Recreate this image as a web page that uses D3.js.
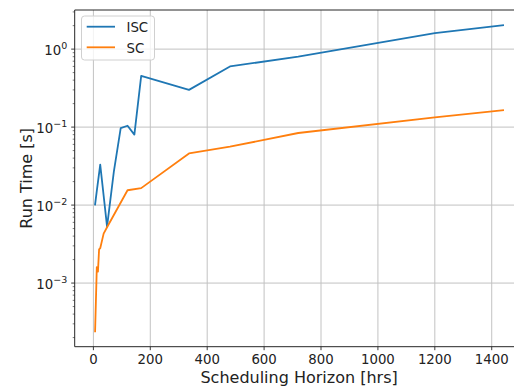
<!DOCTYPE html>
<html>
<head>
<meta charset="utf-8">
<script src="https://cdn.jsdelivr.net/npm/d3@7"></script>
<style>
  html, body { margin: 0; padding: 0; background: #fff; }
  svg { display: block; font-family: "DejaVu Sans", sans-serif; }
</style>
</head>
<body>
<svg id="chart" width="514" height="389"></svg>
<script>
// Scheduling horizon (hours) and solver run time (seconds) per method
const iscHorizon = [6, 12, 24, 48, 72, 96, 120, 144, 168, 336, 480, 720, 1200, 1440];
const iscTime    = [0.0102, 0.0152, 0.033, 0.0053, 0.027, 0.097, 0.104, 0.080, 0.455, 0.30, 0.60, 0.80, 1.60, 2.02];

const scHorizon = [6, 12, 16, 20, 24, 36, 48, 120, 168, 336, 480, 720, 1200, 1440];
const scTime    = [0.00024, 0.0016, 0.0014, 0.0027, 0.0028, 0.0043, 0.0052, 0.0155, 0.0165, 0.046, 0.056, 0.084, 0.133, 0.165];

const seriesNames  = ["ISC", "SC"];
const seriesColors = ["#1f77b4", "#ff7f0e"];

const xTicks = [0, 200, 400, 600, 800, 1000, 1200, 1400];
const yTickExponents = [-3, -2, -1, 0];

const xLabel = "Scheduling Horizon [hrs]";
const yLabel = "Run Time [s]";

const series = [
  { name: seriesNames[0], color: seriesColors[0], pts: iscHorizon.map((h, i) => [h, iscTime[i]]) },
  { name: seriesNames[1], color: seriesColors[1], pts: scHorizon.map((h, i) => [h, scTime[i]]) }
];

const svg = d3.select("#chart");
const plot = { left: 74.7, right: 523.5, top: 10, bottom: 346.7 };

// Domains padded by 5% (linear on x, in log space on y)
const allX = series.flatMap(s => s.pts.map(p => p[0]));
const allY = series.flatMap(s => s.pts.map(p => p[1]));
const [x0, x1] = d3.extent(allX);
const xPad = (x1 - x0) * 0.05;
const [ly0, ly1] = d3.extent(allY).map(Math.log10);
const yPad = (ly1 - ly0) * 0.05;

const x = d3.scaleLinear().domain([x0 - xPad, x1 + xPad]).range([plot.left, plot.right]);
const y = d3.scaleLog().domain([Math.pow(10, ly0 - yPad), Math.pow(10, ly1 + yPad)]).range([plot.bottom, plot.top]);

svg.append("defs").append("clipPath").attr("id", "clip")
  .append("rect")
  .attr("x", plot.left).attr("y", plot.top)
  .attr("width", plot.right - plot.left).attr("height", plot.bottom - plot.top);

// Grid
const grid = svg.append("g").attr("stroke", "#c2c2c2").attr("stroke-width", 1);
xTicks.forEach(t => {
  grid.append("line")
    .attr("x1", x(t)).attr("x2", x(t))
    .attr("y1", plot.top).attr("y2", plot.bottom);
});
yTickExponents.forEach(e => {
  grid.append("line")
    .attr("x1", plot.left).attr("x2", plot.right)
    .attr("y1", y(Math.pow(10, e))).attr("y2", y(Math.pow(10, e)));
});

// Lines
const line = d3.line().x(d => x(d[0])).y(d => y(d[1]));
const lines = svg.append("g").attr("clip-path", "url(#clip)");
series.forEach(s => {
  lines.append("path")
    .datum(s.pts)
    .attr("d", line)
    .attr("fill", "none")
    .attr("stroke", s.color)
    .attr("stroke-width", 1.8)
    .attr("stroke-linejoin", "round")
    .attr("stroke-linecap", "square");
});

// Spines (left, top, bottom)
const spines = svg.append("g").attr("stroke", "#262626").attr("stroke-width", 1).attr("fill", "none");
spines.append("path")
  .attr("d", `M${plot.right},${plot.top}H${plot.left}V${plot.bottom}H${plot.right}`);

// X axis ticks and labels
const xAxis = svg.append("g");
xTicks.forEach(t => {
  xAxis.append("line")
    .attr("x1", x(t)).attr("x2", x(t))
    .attr("y1", plot.bottom).attr("y2", plot.bottom + 3.5)
    .attr("stroke", "#262626").attr("stroke-width", 0.9);
  xAxis.append("text")
    .attr("x", x(t)).attr("y", 364)
    .attr("text-anchor", "middle")
    .attr("font-size", "13.3px")
    .attr("fill", "#222")
    .text(t);
});

// Y axis major ticks with power-of-ten labels
const yAxis = svg.append("g");
yTickExponents.forEach(e => {
  const yy = y(Math.pow(10, e));
  yAxis.append("line")
    .attr("x1", plot.left - 3.5).attr("x2", plot.left)
    .attr("y1", yy).attr("y2", yy)
    .attr("stroke", "#262626").attr("stroke-width", 0.9);
  const txt = yAxis.append("text")
    .attr("x", plot.left - 7.5).attr("y", yy + 5.5)
    .attr("text-anchor", "end")
    .attr("font-size", "13.3px")
    .attr("fill", "#222");
  txt.append("tspan").text("10");
  txt.append("tspan")
    .attr("dy", -5.8)
    .attr("font-size", "9.5px")
    .text(e < 0 ? "\u2212" + (-e) : String(e));
});

// Y axis minor ticks
const [dLo, dHi] = y.domain();
for (let e = Math.floor(Math.log10(dLo)); e <= Math.ceil(Math.log10(dHi)); e++) {
  for (let k = 2; k <= 9; k++) {
    const v = k * Math.pow(10, e);
    if (v < dLo || v > dHi) continue;
    yAxis.append("line")
      .attr("x1", plot.left - 2).attr("x2", plot.left)
      .attr("y1", y(v)).attr("y2", y(v))
      .attr("stroke", "#262626").attr("stroke-width", 0.6);
  }
}

// Axis titles
svg.append("text")
  .attr("x", (plot.left + plot.right) / 2).attr("y", 383)
  .attr("text-anchor", "middle")
  .attr("font-size", "16px")
  .attr("fill", "#222")
  .text(xLabel);

svg.append("text")
  .attr("transform", `translate(32,${(plot.top + plot.bottom) / 2}) rotate(-90)`)
  .attr("text-anchor", "middle")
  .attr("font-size", "16px")
  .attr("fill", "#222")
  .text(yLabel);

// Legend
const legend = svg.append("g");
legend.append("rect")
  .attr("x", 81.5).attr("y", 16)
  .attr("width", 73).attr("height", 44)
  .attr("rx", 3)
  .attr("fill", "#fff").attr("fill-opacity", 0.8)
  .attr("stroke", "#d0d0d0").attr("stroke-width", 1);
series.forEach((s, i) => {
  const ly = 26.7 + i * 20.6;
  legend.append("line")
    .attr("x1", 86.7).attr("x2", 115)
    .attr("y1", ly).attr("y2", ly)
    .attr("stroke", s.color).attr("stroke-width", 1.8);
  legend.append("text")
    .attr("x", 126.5).attr("y", ly + 5.5)
    .attr("font-size", "13.3px")
    .attr("fill", "#222")
    .text(s.name);
});
</script>
</body>
</html>
